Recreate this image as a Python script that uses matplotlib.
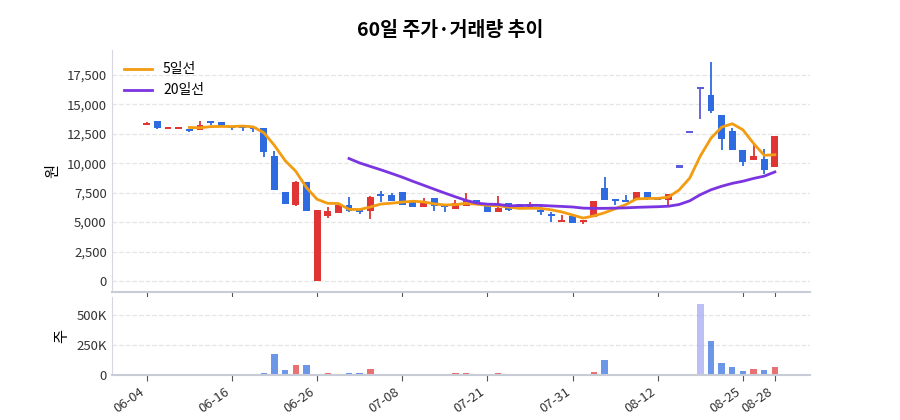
import matplotlib
matplotlib.use("Agg")
import matplotlib.pyplot as plt
import numpy as np
import pandas as pd
from matplotlib.ticker import FuncFormatter

plt.rcParams['font.family'] = ['Noto Sans CJK KR', 'DejaVu Sans']

# 60 trading days, OHLC + volume
opens = [13250, 13600, 12980, 12980, 12900, 12850, 13550, 13550, 13150, 13150,
         13050, 13000, 10650, 7600, 6480, 8450, 0, 5550, 5770, 6450,
         6050, 5910, 7390, 7330, 7530, 6680, 6250, 7020, 6450, 6110,
         6400, 6920, 6330, 5900, 6610, 6500, 6120, 6070, 5710, 5030,
         5480, 4970, 5420, 7910, 6920, 6840, 6920, 7550, 7120, 6900,
         9730, 12670, 16400, 15810, 14110, 12780, 11140, 10240, 10380, 9670]
closes = [13400, 13000, 13020, 13020, 12800, 13250, 13500, 13100, 12980, 13000,
          12900, 11000, 7700, 6550, 8450, 5970, 6030, 5970, 6480, 5970,
          5890, 7100, 7250, 6820, 6450, 6250, 6820, 6400, 6370, 6590,
          6820, 6420, 5900, 6190, 6050, 6250, 6500, 5850, 5570, 5140,
          4950, 5200, 6780, 6900, 6840, 6730, 7600, 6980, 6920, 7400,
          9730, 12670, 16400, 14480, 12100, 11170, 10090, 10600, 9440, 12330]
highs = [13500, 13600, 13050, 13050, 12900, 13600, 13600, 13550, 13150, 13150,
         13050, 13000, 11050, 7600, 8500, 8450, 6030, 6300, 6480, 7100,
         6050, 7250, 7670, 7470, 7530, 6680, 7050, 7020, 6450, 6900,
         7500, 6920, 6330, 7260, 6610, 6500, 6700, 6500, 5900, 5570,
         5480, 5200, 6780, 8820, 6920, 7320, 7600, 7550, 7120, 7400,
         9730, 12670, 16400, 18580, 14110, 13010, 11140, 11650, 11230, 12330]
lows = [13250, 12900, 12980, 12980, 12650, 12850, 13250, 13100, 12850, 12750,
        12650, 10550, 7700, 6550, 6400, 5970, 0, 5350, 5770, 5890,
        5690, 5260, 6680, 6760, 6450, 6250, 6250, 5970, 5830, 6110,
        6400, 6420, 5900, 5850, 5930, 6250, 6120, 5570, 5000, 5030,
        4950, 4800, 5420, 6900, 6470, 6700, 6920, 6840, 6920, 6470,
        9730, 12670, 13770, 14250, 11170, 11170, 9730, 10240, 9050, 9670]
volumes = [0, 0, 0, 0, 0, 0, 0, 0, 0, 0,
           0, 14000, 175000, 45000, 86000, 86000, 0, 20000, 11000, 20000,
           14000, 53000, 11000, 5000, 1000, 1000, 3000, 1000, 2000, 14000,
           14000, 2000, 2000, 20000, 1000, 2000, 2000, 1000, 3000, 3000,
           3000, 3000, 25000, 128000, 11000, 2000, 11000, 2000, 2000, 11000,
           2000, 2000, 595000, 286000, 103000, 67000, 36000, 53000, 45000, 70000]
tick_pos = [0, 8, 16, 24, 32, 40, 48, 56, 59]
tick_labels = ['06-04', '06-16', '06-26', '07-08', '07-21', '07-31', '08-12', '08-25', '08-28']

UP, DOWN, FLAT = '#e03535', '#2e6be0', '#5b5bdc'

x = np.arange(len(closes))
o = np.array(opens); c = np.array(closes)
colors = [UP if cc > oo else (DOWN if cc < oo else FLAT) for oo, cc in zip(o, c)]
ma5 = pd.Series(closes).rolling(5).mean()
ma20 = pd.Series(closes).rolling(20).mean()

fig = plt.figure(figsize=(9, 4.2), dpi=100)
ax = fig.add_axes([0.124, 0.305, 0.776, 0.576])
axv = fig.add_axes([0.124, 0.107, 0.776, 0.186], sharex=ax)

ax.vlines(x, lows, highs, colors=colors, linewidth=1.3, zorder=2)
body = np.maximum(np.abs(c - o), 180)
mid = (o + c) / 2
bottom = np.where(np.abs(c - o) < 180, mid - 90, np.minimum(o, c))
ax.bar(x, body, bottom=bottom, width=0.65, color=colors, zorder=3)
ax.plot(x, ma5, color='#f39c12', linewidth=2, label='5일선', zorder=4)
ax.plot(x, ma20, color='#7b35e0', linewidth=2, label='20일선', zorder=4)

vcol = ['#a0a4f0' if cc == FLAT else cc for cc in colors]
axv.bar(x, volumes, width=0.6, color=vcol, alpha=0.7)

ax.set_xlim(-3.3, 62.3)
ax.set_ylim(-935, 19635)
ax.set_yticks(np.arange(0, 17501, 2500))
ax.yaxis.set_major_formatter(FuncFormatter(lambda v, p: f'{int(v):,}'))
ax.set_ylabel('원', fontsize=11)
ax.legend(loc='upper left', frameon=False, fontsize=10)

axv.set_ylim(0, 650000)
axv.set_yticks([0, 250000, 500000])
axv.yaxis.set_major_formatter(FuncFormatter(lambda v, p: '0' if v == 0 else f'{int(v/1000)}K'))
axv.set_ylabel('주', fontsize=11)
axv.set_xticks(tick_pos)
axv.set_xticklabels(tick_labels, rotation=35, ha='right')

for a in (ax, axv):
    a.grid(axis='y', linestyle='--', color='#e5e5e5', linewidth=0.9)
    a.set_axisbelow(True)
    for s in ('top', 'right'):
        a.spines[s].set_visible(False)
    a.spines['left'].set_color('#d5d8e0')
    a.spines['bottom'].set_color('#c8ccd6')
    a.spines['bottom'].set_linewidth(1.5)
    a.tick_params(colors='#333333', labelsize=9.5, length=4)
    a.tick_params(axis='y', length=0)
    a.tick_params(axis='x', color='#555555')
ax.tick_params(axis='x', labelbottom=False)

fig.suptitle('60일 주가·거래량 추이', fontsize=14, fontweight='bold', y=0.95)
fig.savefig('out.png', dpi=100)
